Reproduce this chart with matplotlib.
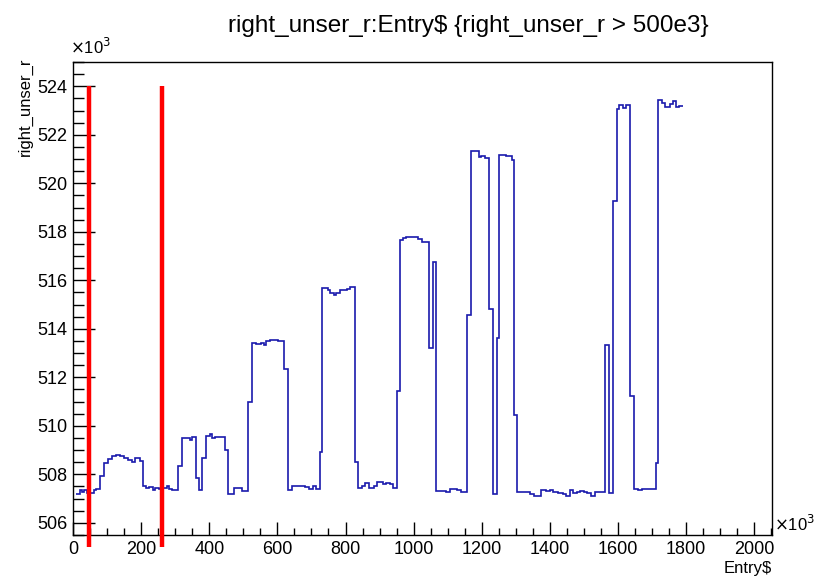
import matplotlib
matplotlib.use("Agg")
import matplotlib.pyplot as plt
from matplotlib.ticker import MultipleLocator

plt.rcParams['font.family'] = ['Liberation Sans', 'DejaVu Sans']

# step edges (Entry$, in 10^3) and values (right_unser_r, in 10^3)
edges = [8, 19.7, 25.6, 33.5, 41.2, 60.9, 68.8, 78.5, 90.3, 102,
         113.8, 125.6, 137.3, 149.1, 162.9, 172.6, 182.3, 196.2, 204.1, 213.8,
         223.5, 233.5, 241.2, 251.2, 258.8, 274.7, 282.3, 290.3, 307.9, 319.7,
         343.2, 349.1, 360.9, 368.8, 379.4, 391.2, 402.9, 408.8, 416.7, 446.1,
         455.9, 473.5, 485.3, 497, 514.7, 526.4, 538.2, 552, 561.7, 567.6,
         577.6, 601.1, 620.6, 630.5, 642.3, 681.4, 693.2, 705, 714.7, 724.7,
         732.3, 748.2, 755.8, 765.8, 773.5, 783.5, 802.9, 812.9, 828.5, 836.4,
         848.2, 857.9, 869.6, 883.5, 893.2, 902.9, 910.8, 918.8, 930.5, 940.2,
         949.9, 959.9, 967.6, 977.6, 997, 1012.9, 1024.6, 1044, 1055.8, 1065.8,
         1085.2, 1095.2, 1107, 1126.4, 1138.2, 1157.9, 1169.6, 1191.1, 1199.1, 1210.8,
         1222.6, 1232.3, 1244, 1252, 1271.7, 1289.4, 1293.2, 1302.9, 1320.5, 1332.3,
         1342.3, 1354, 1374.6, 1387.3, 1399, 1408.7, 1423.4, 1438.2, 1446.1, 1457.9,
         1467.6, 1479.3, 1489.3, 1499, 1508.7, 1521.7, 1532.3, 1561.7, 1573.5, 1585.2,
         1597, 1602.9, 1614.7, 1624.6, 1636.4, 1646.1, 1657.9, 1669.6, 1710.8, 1718.7,
         1728.4, 1738.2, 1752, 1761.7, 1769.6, 1779.3, 1789.3]

values = [507.18, 507.34, 507.26, 507.34, 507.23, 507.34, 507.40, 507.92, 508.46, 508.63,
          508.74, 508.79, 508.74, 508.68, 508.60, 508.52, 508.68, 508.55, 507.51, 507.42,
          507.47, 507.37, 507.42, 507.40, 507.42, 507.51, 507.40, 507.34, 508.33, 509.51,
          509.43, 509.54, 507.86, 507.35, 508.68, 509.59, 509.65, 509.51, 509.56, 508.99,
          507.20, 507.42, 507.44, 507.31, 510.99, 513.40, 513.38, 513.43, 513.35, 513.51,
          513.52, 513.51, 512.33, 507.34, 507.51, 507.46, 507.38, 507.51, 507.41, 508.91,
          515.67, 515.60, 515.49, 515.38, 515.49, 515.60, 515.65, 515.73, 508.52, 507.45,
          507.53, 507.64, 507.45, 507.53, 507.67, 507.70, 507.62, 507.64, 507.59, 507.45,
          511.44, 517.68, 517.75, 517.79, 517.77, 517.72, 517.57, 513.21, 516.75, 507.30,
          507.32, 507.26, 507.40, 507.34, 507.26, 514.58, 521.33, 521.09, 521.11, 521.04,
          514.82, 507.18, 513.62, 521.18, 521.11, 520.98, 510.44, 507.28, 507.26, 507.28,
          507.20, 507.12, 507.34, 507.31, 507.34, 507.28, 507.23, 507.20, 507.12, 507.34,
          507.22, 507.26, 507.31, 507.26, 507.22, 507.12, 507.28, 513.35, 507.23, 519.26,
          523.06, 523.23, 523.11, 523.23, 511.23, 507.40, 507.34, 507.40, 508.47, 523.42,
          523.31, 523.14, 523.28, 523.39, 523.14, 523.20]

# red marker lines (Entry$ in 10^3) and their y extent
cut_lines = [46, 261]
cut_ymin, cut_ymax = 505.0, 524.0

fig = plt.figure(figsize=(8.24, 5.8), dpi=100)
ax = fig.add_axes([73 / 824, 1 - 535 / 580, (772 - 73) / 824, (535 - 62) / 580])

ax.stairs(values, edges, baseline=None, color='#1a1aad', linewidth=1.2)

for xc in cut_lines:
    ax.plot([xc, xc], [cut_ymin, cut_ymax], color='#ff0000', linewidth=3.2,
            clip_on=False, solid_capstyle='butt', zorder=5)

ax.set_xlim(0, 2052)
ax.set_ylim(505.5, 525.0)

ax.xaxis.set_major_locator(MultipleLocator(200))
ax.xaxis.set_minor_locator(MultipleLocator(50))
ax.yaxis.set_major_locator(MultipleLocator(2))
ax.yaxis.set_minor_locator(MultipleLocator(0.5))

ax.tick_params(axis='x', which='major', direction='in', length=9.5, width=1, labelsize=13, pad=4)
ax.tick_params(axis='x', which='minor', direction='in', length=5, width=1)
ax.tick_params(axis='y', which='major', direction='in', length=15.5, width=1, labelsize=13, pad=4)
ax.tick_params(axis='y', which='minor', direction='in', length=8, width=1)
ax.xaxis.set_major_formatter(plt.FuncFormatter(lambda v, p: f'{v:.0f}'))
ax.yaxis.set_major_formatter(plt.FuncFormatter(lambda v, p: f'{v:.0f}'))

for s in ax.spines.values():
    s.set_linewidth(1)

fig.text(468 / 824, 1 - 26 / 580, 'right_unser_r:Entry$ {right_unser_r > 500e3}',
         ha='center', va='center', fontsize=17.5)
fig.text(25 / 824, 1 - 58 / 580, 'right_unser_r', rotation=90,
         ha='center', va='top', fontsize=12)
fig.text(772 / 824, 1 - 568 / 580, 'Entry$', ha='right', va='center', fontsize=12)
fig.text(70 / 824, 1 - 47 / 580, r'$\times$10$^{3}$', ha='left', va='center', fontsize=12)
fig.text(774 / 824, 1 - 524 / 580, r'$\times$10$^{3}$', ha='left', va='center', fontsize=12)

fig.savefig('out.png', dpi=100)
